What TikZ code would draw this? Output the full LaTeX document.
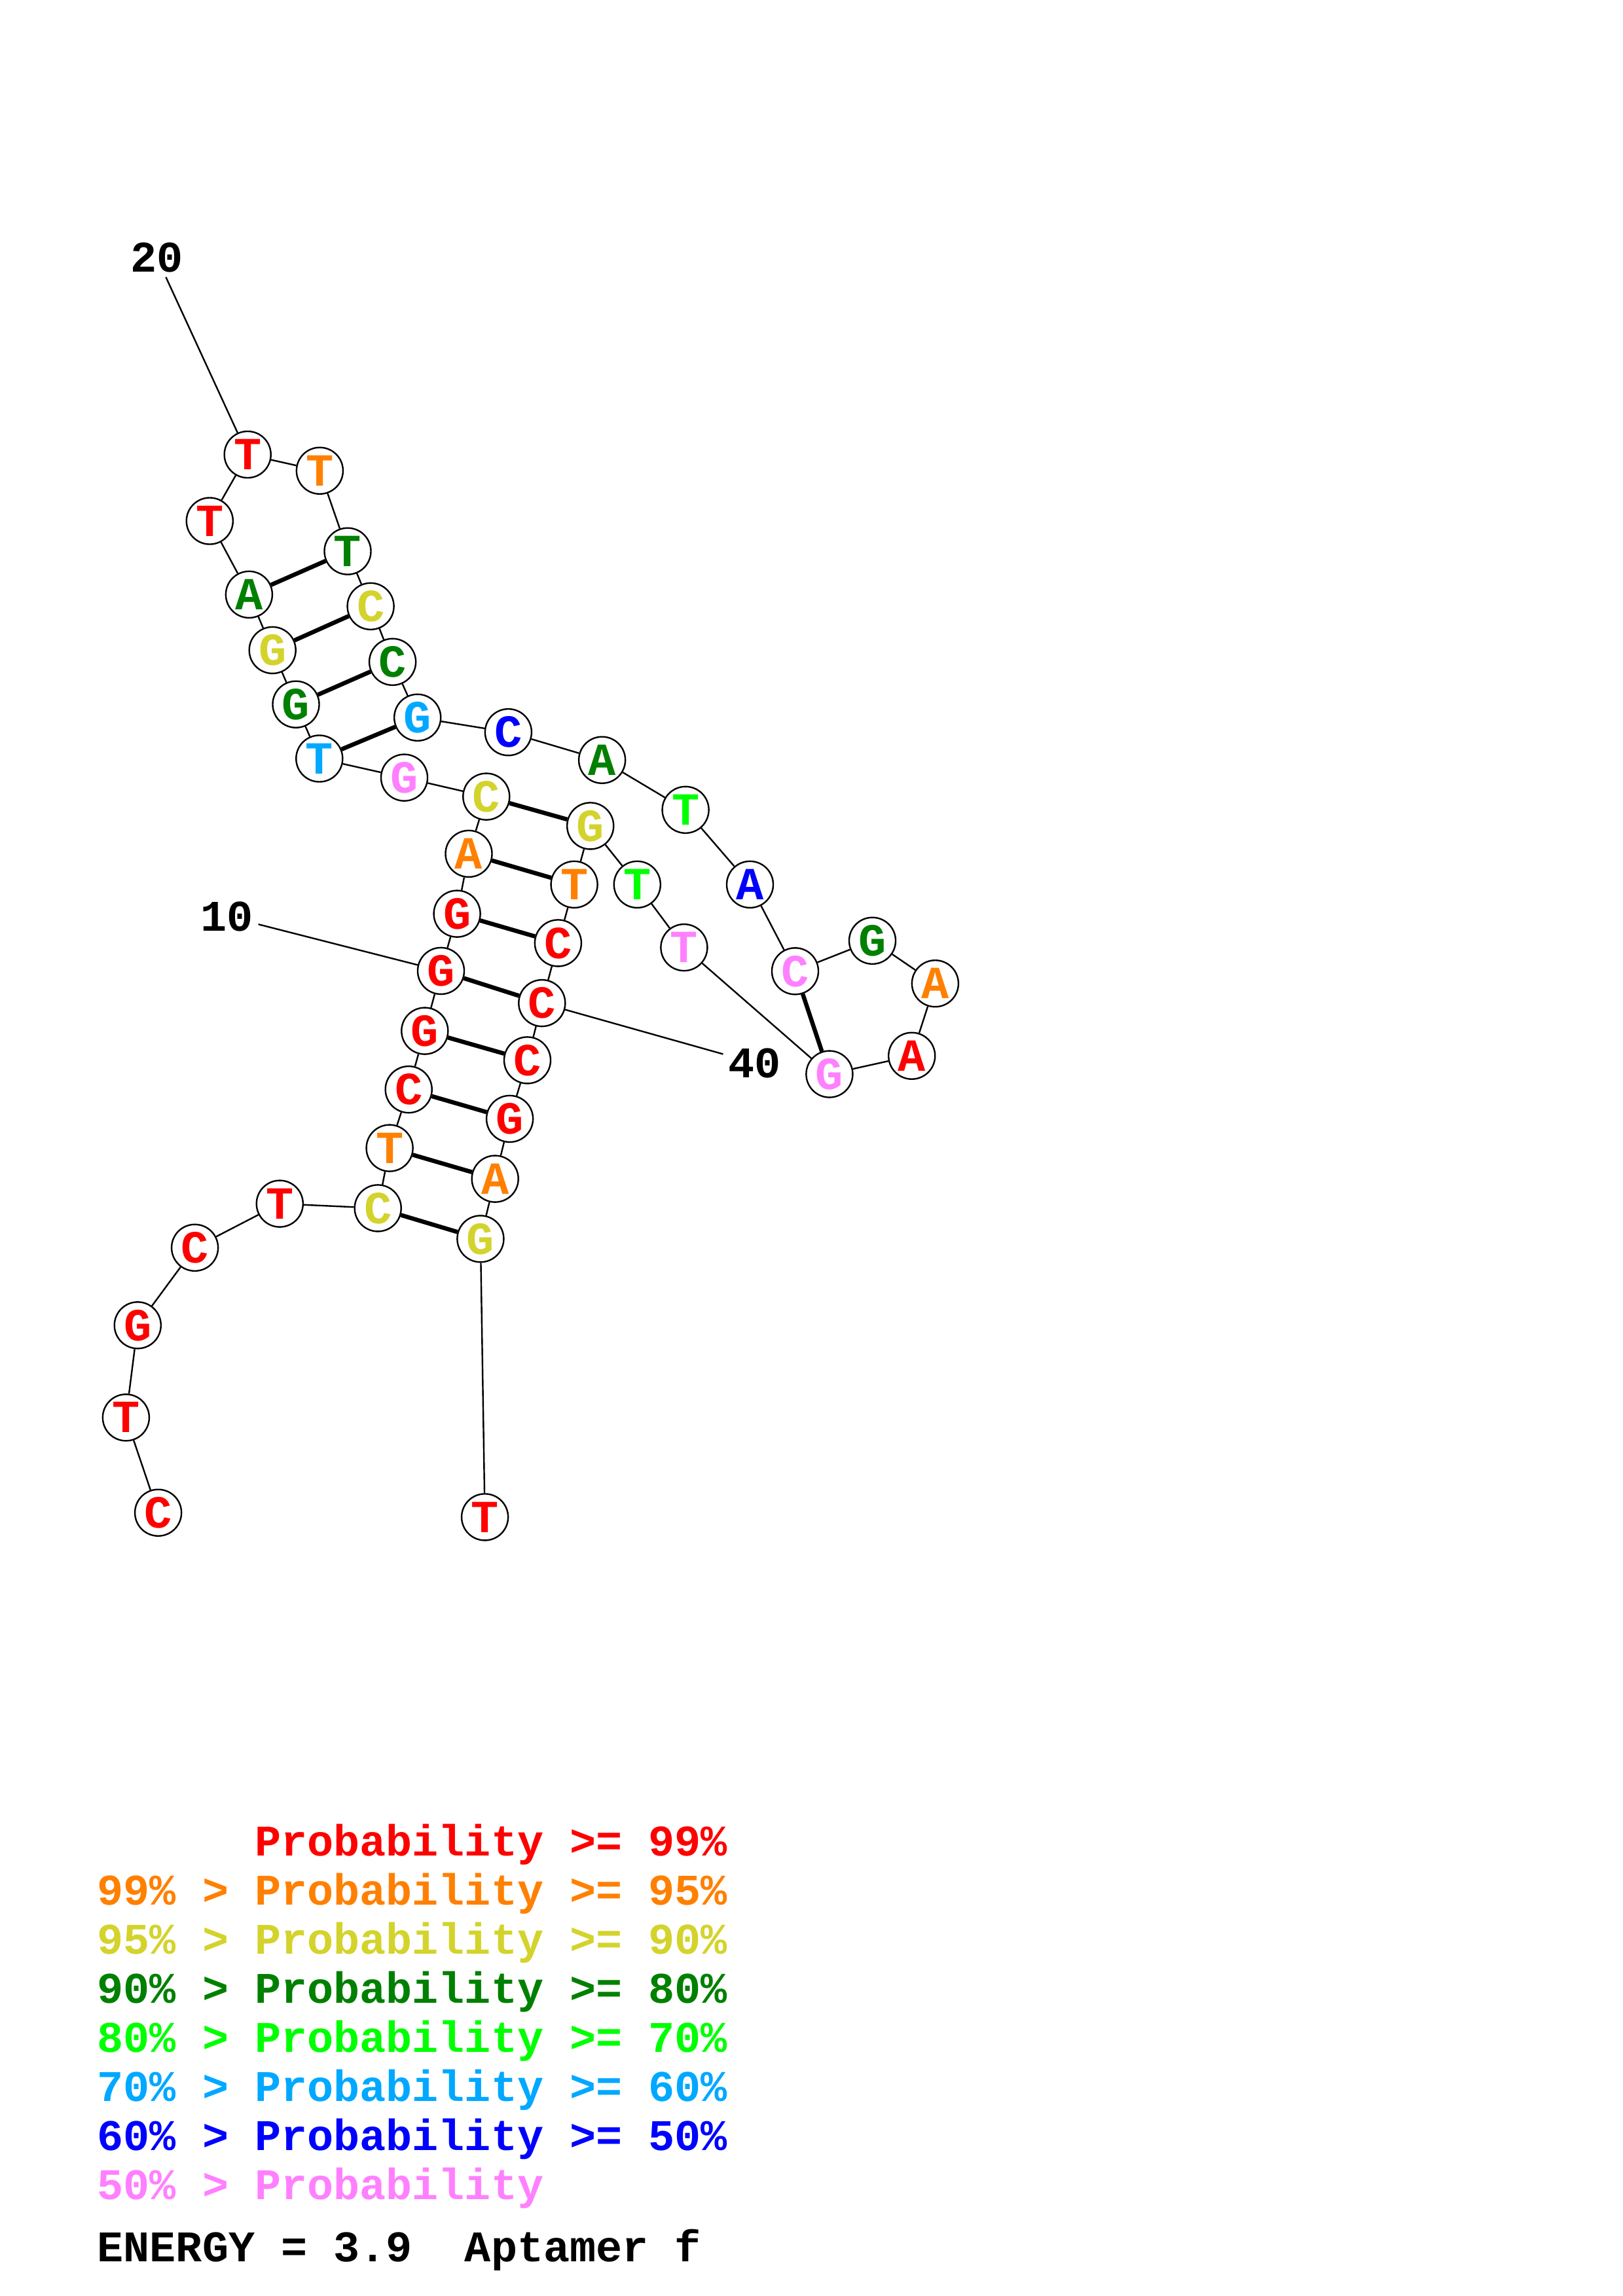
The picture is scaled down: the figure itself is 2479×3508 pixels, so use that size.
\documentclass[tikz,border=0pt]{standalone}
\usepackage{fontspec}
\newfontfamily\monob{Liberation Mono}
\newcommand\nucfont{\monob\bfseries\fontsize{20pt}{20pt}\selectfont}
\newcommand\lblfont{\monob\bfseries\fontsize{19pt}{19pt}\selectfont}
\definecolor{cr}{RGB}{255,0,0}
\definecolor{co}{RGB}{255,128,0}
\definecolor{cy}{RGB}{211,211,44}
\definecolor{cdg}{RGB}{0,128,0}
\definecolor{cg}{RGB}{0,255,0}
\definecolor{csb}{RGB}{0,168,255}
\definecolor{cb}{RGB}{0,0,255}
\definecolor{cp}{RGB}{255,128,255}
\begin{document}
\frenchspacing
\begin{tikzpicture}[x=0.01cm,y=-0.01cm,
  base/.style={circle,draw,line width=0.024cm,minimum size=0.71cm,inner sep=0pt,font=\nucfont,fill=white},
  bb/.style={line width=0.024cm},
  pr/.style={line width=0.065cm},
  lbl/.style={font=\lblfont,inner sep=2pt},
  leg/.style={font=\lblfont,anchor=base west,inner sep=0pt}]
\useasboundingbox (0,0) rectangle (2479,3508);
\node[base,text=cr]  (n1)  at (241.6,2311.2) {C};
\node[base,text=cr]  (n2)  at (192.4,2165.8) {T};
\node[base,text=cr]  (n3)  at (210.3,2024.8) {G};
\node[base,text=cr]  (n4)  at (297.6,1906.3) {C};
\node[base,text=cr]  (n5)  at (427.3,1839.1) {T};
\node[base,text=cy]  (n6)  at (577.2,1845.9) {C};
\node[base,text=co]  (n7)  at (595.1,1754.1) {T};
\node[base,text=cr]  (n8)  at (624.2,1664.6) {C};
\node[base,text=cr]  (n9)  at (648.8,1575.1) {G};
\node[base,text=cr]  (n10) at (673.5,1483.4) {G};
\node[base,text=cr]  (n11) at (698.1,1396.1) {G};
\node[base,text=co]  (n12) at (716.0,1304.4) {A};
\node[base,text=cy]  (n13) at (742.8,1217.1) {C};
\node[base,text=cp]  (n14) at (617.5,1188.1) {G};
\node[base,text=csb] (n15) at (487.8,1159.0) {T};
\node[base,text=cdg] (n16) at (452.0,1076.2) {G};
\node[base,text=cy]  (n17) at (416.2,993.4) {G};
\node[base,text=cdg] (n18) at (380.4,908.4) {A};
\node[base,text=cr]  (n19) at (320.3,796.0) {T};
\node[base,text=cr]  (n20) at (378.2,694.5) {T};
\node[base,text=co]  (n21) at (488.4,719.2) {T};
\node[base,text=cdg] (n22) at (531.0,842.2) {T};
\node[base,text=cy]  (n23) at (566.1,926.3) {C};
\node[base,text=cdg] (n24) at (599.6,1011.3) {C};
\node[base,text=csb] (n25) at (637.7,1096.3) {G};
\node[base,text=cb]  (n26) at (776.4,1118.7) {C};
\node[base,text=cdg] (n27) at (919.6,1161.2) {A};
\node[base,text=cg]  (n28) at (1047.1,1237.3) {T};
\node[base,text=cb]  (n29) at (1145.5,1351.4) {A};
\node[base,text=cp]  (n30) at (1214.5,1483.8) {C};
\node[base,text=cdg] (n31) at (1332.5,1437.3) {G};
\node[base,text=co]  (n32) at (1428.4,1502.7) {A};
\node[base,text=cr]  (n33) at (1392.7,1613.2) {A};
\node[base,text=cp]  (n34) at (1266.9,1641.1) {G};
\node[base,text=cp]  (n35) at (1044.9,1447.6) {T};
\node[base,text=cg]  (n36) at (973.3,1351.4) {T};
\node[base,text=cy]  (n37) at (901.7,1261.9) {G};
\node[base,text=co]  (n38) at (877.1,1351.4) {T};
\node[base,text=cr]  (n39) at (852.4,1440.9) {C};
\node[base,text=cr]  (n40) at (827.8,1532.6) {C};
\node[base,text=cr]  (n41) at (805.5,1619.9) {C};
\node[base,text=cr]  (n42) at (778.6,1709.4) {G};
\node[base,text=co]  (n43) at (756.2,1801.1) {A};
\node[base,text=cy]  (n44) at (733.9,1892.8) {G};
\node[base,text=cr]  (n45) at (740.6,2317.9) {T};
% backbone
\draw[bb] (n1)--(n2)--(n3)--(n4)--(n5)--(n6)--(n7)--(n8)--(n9)--(n10)--(n11)--(n12)--(n13)--(n14)--(n15)--(n16)--(n17)--(n18)--(n19)--(n20)--(n21)--(n22)--(n23)--(n24)--(n25)--(n26)--(n27)--(n28)--(n29)--(n30)--(n31)--(n32)--(n33)--(n34)--(n35)--(n36)--(n37)--(n38)--(n39)--(n40)--(n41)--(n42)--(n43)--(n44)--(n45);
% pairs
\draw[pr] (n6)--(n44);
\draw[pr] (n7)--(n43);
\draw[pr] (n8)--(n42);
\draw[pr] (n9)--(n41);
\draw[pr] (n10)--(n40);
\draw[pr] (n11)--(n39);
\draw[pr] (n12)--(n38);
\draw[pr] (n13)--(n37);
\draw[pr] (n15)--(n25);
\draw[pr] (n16)--(n24);
\draw[pr] (n17)--(n23);
\draw[pr] (n18)--(n22);
\draw[pr] (n30)--(n34);
% labels
\node[lbl] (l20) at (239.4,393) {20};
\node[lbl] (l10) at (346.8,1400) {10};
\node[lbl] (l40) at (1152.3,1624) {40};
\draw[bb] (l20)--(n20);
\draw[bb] (l10)--(n10);
\draw[bb] (l40)--(n40);
% legend
\node[leg,text=cr]  (g1) at (148,2835) {\phantom{99\% > }Probability >= 99\%};
\node[leg,text=co]  (g2) at (148,2910) {99\% > Probability >= 95\%};
\node[leg,text=cy]  (g3) at (148,2985) {95\% > Probability >= 90\%};
\node[leg,text=cdg] (g4) at (148,3060) {90\% > Probability >= 80\%};
\node[leg,text=cg]  (g5) at (148,3135) {80\% > Probability >= 70\%};
\node[leg,text=csb] (g6) at (148,3210) {70\% > Probability >= 60\%};
\node[leg,text=cb]  (g7) at (148,3285) {60\% > Probability >= 50\%};
\node[leg,text=cp]  (g8) at (148,3360) {50\% > Probability};
\node[leg]          (g9) at (148,3455) {ENERGY = 3.9\ \ Aptamer f};
\end{tikzpicture}
\end{document}
